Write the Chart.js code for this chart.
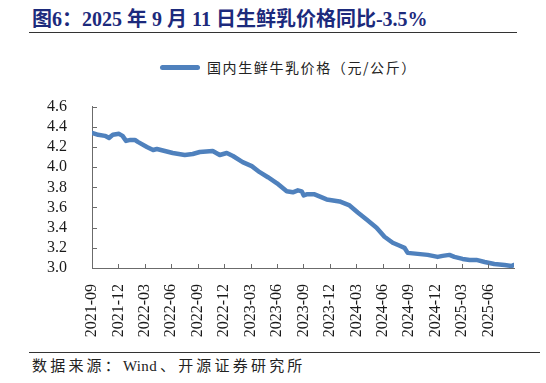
<!DOCTYPE html>
<html>
<head>
<meta charset="utf-8">
<script src="https://cdn.jsdelivr.net/npm/chart.js@4"></script>
<style>
  html, body { margin: 0; padding: 0; background: #fff; }
  body { width: 546px; height: 383px; position: relative; overflow: hidden; }
  #title {
    position: absolute; left: 32px; top: 3px;
    font: bold 20px "Liberation Serif", "Noto Sans CJK SC", serif;
    color: #1c2a7c; white-space: nowrap;
  }
  .rule { position: absolute; height: 0; border-top: 1.5px solid #333; }
  #legend {
    position: absolute; left: 160px; top: 58px; height: 18px;
    display: flex; align-items: center; white-space: nowrap;
  }
  #legend .swatch { width: 40px; height: 5px; border-radius: 3px; background: #4f81bd; margin-right: 7px; }
  #legend span { font: 14px "Noto Sans CJK SC", sans-serif; color: #222; letter-spacing: 1.6px; }
  #source {
    position: absolute; left: 32px; top: 354px;
    font: 15px "Liberation Serif", "Noto Sans CJK SC", serif;
    color: #222; letter-spacing: 3.2px; white-space: nowrap;
  }
  #source .latin { letter-spacing: 0.3px; margin-right: 3px; }
  #wrap { position: absolute; left: 0; top: 80px; width: 546px; height: 260px; }
</style>
</head>
<body>
<div id="title">图6：2025 年 9 月 11 日生鲜乳价格同比-3.5%</div>
<div class="rule" style="left:29px; top:32px; width:488px;"></div>
<div id="legend"><div class="swatch"></div><span>国内生鲜牛乳价格（元/公斤）</span></div>
<div id="wrap"><canvas id="chart"></canvas></div>
<div class="rule" style="left:29px; top:352px; width:511px;"></div>
<div id="source">数据来源：<span class="latin">Wind</span>、开源证券研究所</div>

<script>
const seriesName = "国内生鲜牛乳价格（元/公斤）";

const dates = [
  "2021-09-01", "2021-09-22", "2021-10-15", "2021-10-29", "2021-11-12", "2021-12-03",
  "2021-12-15", "2021-12-27", "2022-01-12", "2022-01-27", "2022-02-07", "2022-03-08",
  "2022-03-29", "2022-04-12", "2022-05-09", "2022-06-06", "2022-07-17", "2022-08-14",
  "2022-09-08", "2022-10-22", "2022-11-16", "2022-12-10", "2022-12-31", "2023-02-04",
  "2023-03-05", "2023-04-02", "2023-04-30", "2023-05-31", "2023-07-04", "2023-07-25",
  "2023-08-12", "2023-08-25", "2023-09-02", "2023-09-12", "2023-10-09", "2023-11-20",
  "2024-01-04", "2024-02-08", "2024-03-06", "2024-04-06", "2024-05-10", "2024-06-07",
  "2024-07-05", "2024-07-29", "2024-08-15", "2024-08-26", "2024-09-30", "2024-11-04",
  "2024-12-08", "2024-12-25", "2025-01-18", "2025-02-05", "2025-03-03", "2025-03-27",
  "2025-04-20", "2025-05-18", "2025-06-21", "2025-07-26", "2025-08-19", "2025-08-28",
];

const prices = [
  4.34, 4.32, 4.31, 4.29, 4.32, 4.33,
  4.31, 4.26, 4.27, 4.27, 4.25, 4.20,
  4.17, 4.18, 4.16, 4.14, 4.12, 4.13,
  4.15, 4.16, 4.12, 4.14, 4.11, 4.05,
  4.01, 3.95, 3.90, 3.84, 3.76, 3.75,
  3.77, 3.76, 3.72, 3.73, 3.73, 3.68,
  3.66, 3.62, 3.55, 3.48, 3.40, 3.31,
  3.25, 3.22, 3.20, 3.15, 3.14, 3.13,
  3.11, 3.12, 3.13, 3.11, 3.09, 3.08,
  3.08, 3.06, 3.04, 3.03, 3.02, 3.03,
];

const yMin = 3.0;
const yMax = 4.6;
const yStep = 0.2;
const monthStep = 3; // 2021-09, 2021-12, ... 2025-06

const lineColor = "#4f81bd";
const axisColor = "#6b6b6b";
const textColor = "#1a1a1a";

// months elapsed since 2021-09-01
function monthIndex(d) {
  const [y, m, day] = d.split("-").map(Number);
  return (y - 2021) * 12 + (m - 9) + (day - 1) / 30;
}

function monthLabel(v) {
  const total = 8 + Math.round(v);
  const y = 2021 + Math.floor(total / 12);
  const m = (total % 12) + 1;
  return `${y}-${String(m).padStart(2, "0")}`;
}

const points = dates.map((d, i) => ({ x: monthIndex(d), y: prices[i] }));

// tick marks pointing into the plot, like the original
const innerTicks = {
  id: "innerTicks",
  afterDraw(chart) {
    const { ctx, chartArea, scales } = chart;
    ctx.save();
    ctx.strokeStyle = axisColor;
    ctx.lineWidth = 1;
    ctx.beginPath();
    for (const t of scales.x.ticks) {
      const px = Math.round(scales.x.getPixelForValue(t.value)) + 0.5;
      ctx.moveTo(px, chartArea.bottom);
      ctx.lineTo(px, chartArea.bottom - 4);
    }
    for (const t of scales.y.ticks) {
      const py = Math.round(scales.y.getPixelForValue(t.value)) + 0.5;
      ctx.moveTo(chartArea.left, py);
      ctx.lineTo(chartArea.left + 5, py);
    }
    ctx.stroke();
    ctx.restore();
  },
};

const ctx = document.getElementById("chart").getContext("2d");
new Chart(ctx, {
  type: "line",
  data: {
    datasets: [{
      label: seriesName,
      data: points,
      borderColor: lineColor,
      backgroundColor: lineColor,
      borderWidth: 4.5,
      borderCapStyle: "round",
      borderJoinStyle: "round",
      pointRadius: 0,
      tension: 0,
    }],
  },
  options: {
    responsive: true,
    maintainAspectRatio: false,
    animation: false,
    layout: { padding: { left: 0, right: 32, top: 12, bottom: 0 } },
    plugins: {
      legend: { display: false },
      tooltip: { enabled: false },
    },
    scales: {
      x: {
        type: "linear",
        min: 0,
        max: monthIndex(dates[dates.length - 1]),
        grid: { display: false },
        border: { display: true, color: axisColor, width: 1 },
        ticks: {
          stepSize: monthStep,
          includeBounds: false,
          autoSkip: false,
          minRotation: 90,
          maxRotation: 90,
          padding: 8,
          color: textColor,
          font: { family: "'Liberation Serif', serif", size: 16 },
          callback: (v) => monthLabel(v),
        },
        afterFit: (scale) => { scale.height = 72; },
      },
      y: {
        min: yMin,
        max: yMax,
        grid: { display: false },
        border: { display: true, color: axisColor, width: 1 },
        ticks: {
          stepSize: yStep,
          autoSkip: false,
          padding: 17,
          color: textColor,
          font: { family: "'Liberation Serif', serif", size: 16 },
          callback: (v) => Number(v).toFixed(1),
        },
        afterFit: (scale) => { scale.width = 92; },
      },
    },
  },
  plugins: [innerTicks],
});
</script>
</body>
</html>
